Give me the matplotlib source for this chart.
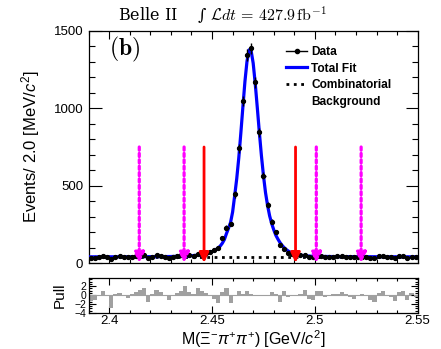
import numpy as np
import matplotlib
matplotlib.use("Agg")
import matplotlib.pyplot as plt
from matplotlib.ticker import MultipleLocator
from matplotlib.lines import Line2D

plt.rcParams['font.family'] = ['Liberation Sans', 'DejaVu Sans']
plt.rcParams['mathtext.fontset'] = 'custom'
plt.rcParams['mathtext.rm'] = 'Liberation Sans'
plt.rcParams['mathtext.it'] = 'Liberation Sans:italic'
plt.rcParams['mathtext.bf'] = 'Liberation Sans:bold'

# ---------------- data ----------------
bin_lo = 2.39
bin_hi = 2.55
bin_w = 0.002

counts = [31, 34, 38, 45, 41, 23, 41, 43, 39, 36,
          42, 44, 48, 50, 31, 42, 49, 45, 40, 35,
          40, 45, 49, 56, 49, 48, 56, 60, 67, 73,
          85, 95, 160, 228, 252, 444, 741, 1047, 1345, 1388,
          1168, 845, 565, 375, 267, 202, 116, 88, 67, 58,
          55, 51, 54, 40, 36, 47, 47, 38, 41, 42,
          43, 45, 42, 37, 36, 38, 42, 39, 34, 31,
          43, 46, 38, 36, 32, 43, 46, 34, 42, 37]

pulls = [-1.4, -1.0, -0.3, 0.8, 0.1, -2.9, 0.2, 0.5, -0.2, -0.7,
         0.3, 0.6, 1.2, 1.5, -1.5, 0.3, 1.2, 0.6, -0.2, -1.0,
         -0.3, 0.5, 1.0, 2.0, 0.6, 0.3, 1.5, 1.0, 0.5, -0.3,
         -0.8, -1.8, 0.6, 1.5, -1.8, -0.3, 0.8, 0.3, 0.8, 0.2,
         0.1, -0.3, -0.3, 0.1, 0.6, 0.3, -1.5, 0.9, -0.5, -0.3,
         0.0, 0.2, 1.2, -0.8, -1.2, 0.8, 1.0, -0.5, 0.0, 0.2,
         0.3, 0.6, 0.2, -0.5, -0.8, -0.3, 0.3, -0.2, -1.0, -1.5,
         0.5, 1.0, -0.3, -0.5, -1.3, 0.6, 1.0, -1.0, 0.5, -0.4]

fit_x = [2.390, 2.400, 2.410, 2.420, 2.430, 2.435, 2.440, 2.443, 2.446, 2.448,
         2.450, 2.451, 2.452, 2.453, 2.454, 2.455, 2.456, 2.457, 2.458, 2.459,
         2.460, 2.461, 2.462, 2.463, 2.464, 2.465, 2.466, 2.467, 2.468, 2.469,
         2.470, 2.471, 2.472, 2.473, 2.474, 2.475, 2.476, 2.477, 2.478, 2.479,
         2.480, 2.481, 2.482, 2.483, 2.484, 2.485, 2.486, 2.487, 2.488, 2.489,
         2.490, 2.492, 2.494, 2.496, 2.498, 2.500, 2.510, 2.520, 2.530, 2.540,
         2.550]
fit_y = [40, 40, 40.5, 41, 42, 44, 47, 51, 57, 64,
         73, 80, 88, 97, 110, 128, 152, 190, 225, 262,
         330, 435, 545, 680, 840, 1010, 1175, 1305, 1378, 1372,
         1292, 1160, 1005, 845, 695, 565, 455, 372, 305, 255,
         215, 180, 155, 133, 115, 100, 88, 78, 70, 64,
         59, 53, 49, 46, 44, 43, 41.5, 41, 40.5, 40,
         40]

bg_x = [2.39, 2.55]
bg_y = [40, 40]

red_arrows_x = [2.4461, 2.4906]
magenta_arrows_x = [2.4146, 2.4364, 2.5007, 2.5225]
arrow_top = 750

x_major = [2.40, 2.45, 2.50, 2.55]
x_major_labels = ['2.4', '2.45', '2.5', '2.55']

# ---------------- figure ----------------
fig = plt.figure(figsize=(4.41, 3.49), dpi=100)
ax = fig.add_axes([0.2011, 0.2464, 0.746, 0.6648])
axp = fig.add_axes([0.2011, 0.1032, 0.746, 0.1003])

edges = bin_lo + bin_w * np.arange(len(counts) + 1)
centers = 0.5 * (edges[:-1] + edges[1:])
counts_a = np.array(counts, dtype=float)

ax.plot(bg_x, bg_y, color='k', ls=':', lw=2.0, zorder=2)
ax.plot(fit_x, fit_y, color='#0000ff', lw=2.3, zorder=3)
ax.errorbar(centers, counts_a, yerr=np.sqrt(counts_a), xerr=bin_w / 2,
            fmt='o', ms=2.8, color='k', ecolor='k', elinewidth=1.0,
            capsize=0, zorder=4)

for x in red_arrows_x:
    ax.annotate('', xy=(x, 0), xytext=(x, arrow_top),
                arrowprops=dict(arrowstyle='-|>,head_length=0.6,head_width=0.28',
                                color='#ff0000', lw=2.0, shrinkA=0, shrinkB=0,
                                mutation_scale=10), zorder=5)
for x in magenta_arrows_x:
    ax.annotate('', xy=(x, 0), xytext=(x, arrow_top),
                arrowprops=dict(arrowstyle='-|>,head_length=0.6,head_width=0.3',
                                color='#ff00ff', lw=2.3, ls=(0, (1, 1)),
                                shrinkA=0, shrinkB=0, mutation_scale=10), zorder=5)

ax.set_xlim(bin_lo, bin_hi)
ax.set_ylim(0, 1500)
ax.xaxis.set_major_locator(MultipleLocator(0.05))
ax.xaxis.set_minor_locator(MultipleLocator(0.01))
ax.yaxis.set_major_locator(MultipleLocator(500))
ax.yaxis.set_minor_locator(MultipleLocator(100))
ax.tick_params(which='both', direction='in', top=True, right=True,
               labelbottom=False, labelsize=9.5, width=0.8)
ax.tick_params(axis='y', which='major', length=9, pad=4)
ax.tick_params(axis='y', which='minor', length=4.5)
ax.tick_params(axis='x', which='major', length=6)
ax.tick_params(axis='x', which='minor', length=3)
for s in ax.spines.values():
    s.set_linewidth(0.9)

ax.set_ylabel('Events/ 2.0 [MeV/$c^{2}$]', fontsize=12)
ax.yaxis.set_label_coords(-0.142, 0.5)

ax.text(0.062, 0.985, r'$\mathbf{(b)}$', transform=ax.transAxes,
        math_fontfamily='cm', fontsize=17, ha='left', va='top')

h_data = Line2D([], [], color='k', marker='o', ms=3, lw=1)
h_fit = Line2D([], [], color='#0000ff', lw=2.3)
h_bg = Line2D([], [], color='k', ls=':', lw=2)
h_blank = Line2D([], [], color='none')
ax.legend([h_data, h_fit, h_bg, h_blank],
          ['Data', 'Total Fit', 'Combinatorial', 'Background'],
          loc='upper left', bbox_to_anchor=(0.60, 0.935), frameon=False,
          prop={'weight': 'bold', 'size': 8.6}, handlelength=1.75,
          handletextpad=0.35, labelspacing=0.38, borderpad=0, borderaxespad=0)

title_y = 1 - 15 / 349
fig.text(0.505, title_y, 'Belle II    \u222b ' + r'$\mathcal{L}dt\,=\,427.9\,\mathrm{fb}^{-1}$',
         family=['DejaVu Serif'], math_fontfamily='cm',
         ha='center', va='center', fontsize=11.5)

# ---------------- pull panel ----------------
axp.bar(centers, pulls, width=bin_w, color='#a0a0a0', edgecolor='none', zorder=2)
axp.axhline(0, color='#a0a0a0', lw=0.8, zorder=1)
axp.set_xlim(bin_lo, bin_hi)
axp.set_ylim(-4.0, 3.8)
axp.set_xticks(x_major)
axp.set_xticklabels(x_major_labels)
axp.xaxis.set_minor_locator(MultipleLocator(0.01))
axp.set_yticks([-4, -2, 0, 2])
axp.yaxis.set_minor_locator(MultipleLocator(0.5))
axp.tick_params(which='both', direction='in', top=True, right=True, width=0.8)
axp.tick_params(axis='x', which='major', length=5, labelsize=9.5, pad=1.5)
axp.tick_params(axis='x', which='minor', length=2.5)
axp.tick_params(axis='y', which='major', length=5, labelsize=7.5, pad=2)
axp.tick_params(axis='y', which='minor', length=2.5)
for s in axp.spines.values():
    s.set_linewidth(0.9)
axp.set_ylabel('Pull', fontsize=11)
axp.yaxis.set_label_coords(-0.066, 0.5)
axp.set_xlabel(r'M($\Xi^{-}\pi^{+}\pi^{+}$) [GeV/$c^{2}$]', fontsize=11.5)
axp.xaxis.set_label_coords(0.5, -0.44)

fig.savefig('out.png', dpi=100)
